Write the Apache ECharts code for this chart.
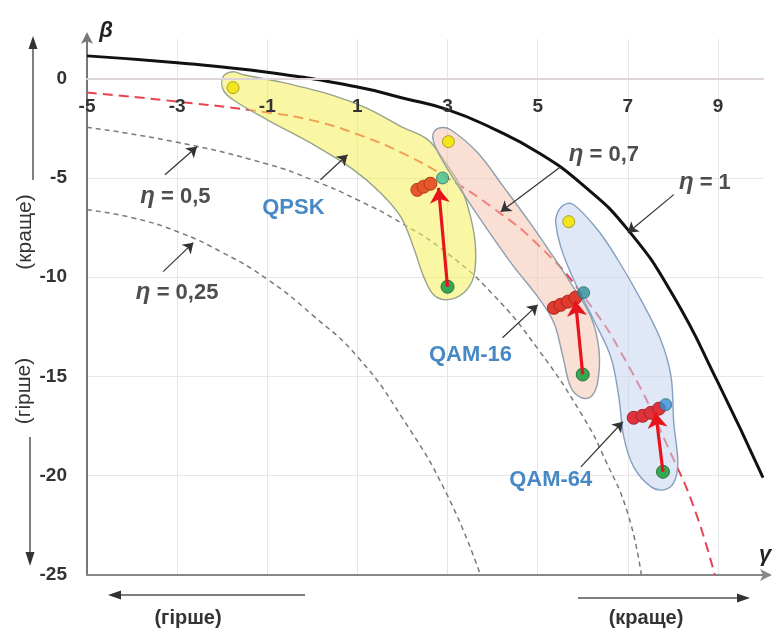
<!DOCTYPE html>
<html>
<head>
<meta charset="utf-8">
<script src="https://cdn.jsdelivr.net/npm/echarts@6/dist/echarts.min.js"></script>
<style>
html,body{margin:0;padding:0;background:#ffffff;}
#chart{width:774px;height:630px;}
</style>
</head>
<body>
<div id="chart"></div>
<script>
// ---------- data (gamma = x, beta = y) ----------
const xTickValues = [-5, -3, -1, 1, 3, 5, 7, 9];
const yTickValues = [0, -5, -10, -15, -20, -25];

const eta1Gamma = [-5, -3, -1, 1, 2, 3, 4, 5, 6, 7, 8, 9, 10];
const eta1Beta  = [1.15, 0.8, 0.32, -0.42, -0.97, -1.56, -2.5, -3.7, -5.35, -7.6, -10.9, -15.3, -20.1];

const eta07Gamma = [-5, -3, -1, 0, 1, 2, 3, 4, 5, 6, 7, 8, 8.5, 8.93];
const eta07Beta  = [-0.7, -1.15, -1.7, -2.1, -2.8, -3.75, -5.0, -6.5, -8.35, -10.9, -14.4, -19.1, -21.8, -25];

const eta05Gamma = [-5, -3, -1, 0, 1, 2, 3, 4, 5, 6, 6.5, 7, 7.3];
const eta05Beta  = [-2.45, -3.2, -4.3, -5.1, -6.1, -7.3, -8.8, -10.85, -13.6, -17.0, -19.2, -21.9, -25];

const eta025Gamma = [-5, -4, -3, -2, -1, 0, 1, 2, 3, 3.73];
const eta025Beta  = [-6.6, -7.0, -7.7, -8.75, -10.1, -11.9, -14.0, -17.1, -21.0, -25];

// outlines of the three modulation regions
const qpskRegion = [[-1.98,0.10],[-1.76,0.35],[-1.53,0.20],[-0.64,-0.20],[0.47,-0.85],[1.22,-1.5],[1.96,-2.4],[2.56,-3.07],[2.91,-4.08],[3.29,-5.44],[3.51,-6.95],[3.62,-8.46],[3.58,-9.97],[3.36,-10.78],[3.0,-11.13],[2.69,-10.88],[2.47,-9.97],[2.24,-8.46],[1.96,-6.95],[1.51,-5.74],[0.91,-4.58],[0.11,-3.43],[-1.0,-2.07],[-1.76,-1.06],[-1.98,-0.55]];
const qam16Region = [[2.69,-2.72],[2.84,-2.47],[3.07,-2.57],[3.67,-3.73],[4.24,-5.44],[4.78,-7.1],[5.29,-8.77],[5.73,-10.28],[6.18,-11.99],[6.36,-13.65],[6.33,-15.31],[6.18,-16.02],[5.96,-16.07],[5.73,-15.52],[5.56,-14.0],[5.36,-12.29],[5.0,-10.98],[4.47,-9.47],[3.89,-7.61],[3.29,-5.59],[2.84,-3.93],[2.69,-3.17]];
const qam64Region = [[5.44,-6.75],[5.58,-6.35],[5.8,-6.35],[6.33,-7.61],[6.78,-9.12],[7.29,-11.13],[7.73,-13.15],[7.96,-15.01],[8.02,-17.33],[8.11,-19.35],[8.02,-20.35],[7.8,-20.71],[7.51,-20.55],[7.13,-19.55],[6.91,-18.04],[6.8,-16.02],[6.62,-14.0],[6.24,-12.14],[5.8,-10.13],[5.51,-8.46],[5.4,-7.25]];

// operating points
const startPoints = [[-1.76,-0.45],[3.02,-3.17],[5.69,-7.2]];       // yellow
const basePoints  = [[3.0,-10.48],[6.0,-14.9],[7.78,-19.8]];         // green
const endPoints   = [[2.89,-5.0],[6.02,-10.78],[7.84,-16.42]];       // teal / blue
const qpskCluster  = [[2.33,-5.6],[2.47,-5.44],[2.62,-5.29]];
const qam16Cluster = [[5.36,-11.54],[5.51,-11.39],[5.67,-11.23],[5.84,-11.03]];
const qam64Cluster = [[7.13,-17.08],[7.33,-16.98],[7.51,-16.83],[7.69,-16.62]];
const gainArrowTo  = [[2.8,-5.5],[5.84,-11.2],[7.62,-16.83]];

// annotations
const etaLabels    = ['0,5', '0,25', '0,7', '1'];
const etaLabelAt   = [[-3.04,-5.94],[-3.0,-10.78],[6.47,-3.83],[8.71,-5.24]];
const etaArrowFrom = [[-3.27,-4.84],[-3.31,-9.72],[5.51,-4.43],[8.02,-5.84]];
const etaArrowTo   = [[-2.56,-3.43],[-2.64,-8.26],[4.18,-6.7],[7.0,-7.76]];
const modLabels    = ['QPSK', 'QAM-16', 'QAM-64'];
const modLabelAt   = [[-0.42,-6.5],[3.51,-13.9],[5.29,-20.2]];
const modArrowFrom = [[0.18,-5.09],[4.22,-13.05],[5.96,-19.55]];
const modArrowTo   = [[0.78,-3.83],[5.0,-11.39],[6.89,-17.28]];

// ---------- chart ----------
const FONT = '"Liberation Sans", Arial, sans-serif';
const pairs = (xs, ys) => xs.map((x, i) => [x, ys[i]]);
const chart = echarts.init(document.getElementById('chart'));

function curve(name, xs, ys, style) {
  return { type: 'line', name, data: pairs(xs, ys), smooth: 0.5, showSymbol: false,
           xAxisIndex: 0, yAxisIndex: 0, z: 2, silent: true, lineStyle: style };
}
function region(pts, fill, stroke) {
  return { type: 'custom', xAxisIndex: 0, yAxisIndex: 0, z: 3, silent: true, data: [pts[0]],
    renderItem: (params, api) => ({
      type: 'polygon',
      shape: { points: pts.map(p => api.coord(p)), smooth: 0.35 },
      style: { fill, stroke, lineWidth: 1.4 }
    }) };
}
function dots(pts, color, border, size, z) {
  return { type: 'scatter', data: pts, xAxisIndex: 0, yAxisIndex: 0, symbolSize: size, z, silent: true,
           itemStyle: { color, borderColor: border, borderWidth: 1, opacity: 1 } };
}
function arrows(from, to, color, width, size, z) {
  return { type: 'lines', coordinateSystem: 'cartesian2d', xAxisIndex: 0, yAxisIndex: 0, z, silent: true,
    symbol: ['none', 'arrow'], symbolSize: size,
    lineStyle: { color, width, opacity: 1, curveness: 0 },
    data: from.map((f, i) => ({ coords: [f, to[i]] })) };
}

const endColors = ['#3fbf96', '#2f8f9c', '#3a8fd4'];

const option = {
  animation: false,
  backgroundColor: '#ffffff',
  grid: [
    { left: 87, right: 11, top: 39, bottom: 55 },
    // strip from beta = 2 down to beta = 0, whose bottom edge carries the gamma tick labels
    { left: 87, right: 11, top: 39, height: 40 }
  ],
  xAxis: [
    { type: 'value', gridIndex: 0, min: -5, max: 10, interval: 2, position: 'bottom',
      axisLine: { onZero: false, lineStyle: { color: '#888', width: 2 },
                  symbol: ['none', 'arrow'], symbolSize: [9, 12], symbolOffset: [0, 9] },
      axisTick: { show: false }, axisLabel: { show: false },
      splitLine: { show: true, showMinLine: false, showMaxLine: false, lineStyle: { color: '#e6e6e6', width: 1 } } },
    { type: 'value', gridIndex: 1, min: -5, max: 10, interval: 2, position: 'bottom', z: 10,
      axisLine: { onZero: false, lineStyle: { color: '#ddd5d5', width: 2 } },
      axisTick: { show: false },
      axisLabel: { margin: 18, showMaxLabel: false, color: '#333', fontWeight: 'bold',
                   fontSize: 19, fontFamily: FONT,
                   formatter: v => xTickValues.includes(v) ? String(v) : '' },
      splitLine: { show: false } }
  ],
  yAxis: [
    { type: 'value', gridIndex: 0, min: -25, max: 2, interval: 5,
      axisLine: { onZero: false, show: true, lineStyle: { color: '#777', width: 2 },
                  symbol: ['none', 'arrow'], symbolSize: [9, 12], symbolOffset: [0, 7] },
      axisTick: { show: false },
      axisLabel: { margin: 20, showMaxLabel: false, color: '#333', fontWeight: 'bold', fontSize: 19, fontFamily: FONT,
                   formatter: v => yTickValues.includes(v) ? String(v) : '' },
      splitLine: { show: true, showMinLine: false, showMaxLine: false, lineStyle: { color: '#e6e6e6', width: 1 } } },
    { type: 'value', gridIndex: 1, min: 0, max: 2, show: false }
  ],
  series: [
    curve('η = 0,25', eta025Gamma, eta025Beta, { color: '#7a7a7a', width: 1.5, type: [5, 4] }),
    curve('η = 0,5', eta05Gamma, eta05Beta, { color: '#7a7a7a', width: 1.5, type: [5, 4] }),
    curve('η = 0,7', eta07Gamma, eta07Beta, { color: '#e8434f', width: 2, type: [10, 6] }),
    curve('η = 1', eta1Gamma, eta1Beta, { color: '#111', width: 3, type: 'solid' }),
    region(qpskRegion, 'rgba(246,240,90,0.55)', '#98a38c'),
    region(qam16Region, 'rgba(246,192,170,0.5)', '#8e9fae'),
    region(qam64Region, 'rgba(198,214,240,0.55)', '#84a0c0'),
    dots(startPoints, '#f2e51c', '#a9a023', 12, 5),
    dots(basePoints, '#34a853', '#27713a', 13, 5),
    dots(qpskCluster, '#e6572b', '#b23a1c', 13, 5),
    dots(qam16Cluster, '#e03a2c', '#a8261c', 13, 5),
    dots(qam64Cluster, '#e0323a', '#a8242a', 13, 5),
    { type: 'scatter', data: endPoints, xAxisIndex: 0, yAxisIndex: 0, symbolSize: 12, z: 5, silent: true,
      itemStyle: { color: p => endColors[p.dataIndex], borderColor: '#2a6a6a', borderWidth: 1 } },
    arrows(basePoints, gainArrowTo, '#e8141c', 3.2, [12, 15], 6),
    arrows(etaArrowFrom, etaArrowTo, '#333', 1.2, [7, 10], 6),
    arrows(modArrowFrom, modArrowTo, '#333', 1.2, [7, 10], 6),
    { type: 'scatter', xAxisIndex: 0, yAxisIndex: 0, symbolSize: 0, z: 7, silent: true,
      data: etaLabelAt.map((p, i) => ({ value: p, name: etaLabels[i] })),
      label: { show: true, position: 'inside', formatter: p => '{e|η} = ' + p.name,
               color: '#222', fontWeight: 'bold', fontSize: 22, fontFamily: FONT,
               rich: { e: { fontStyle: 'italic', fontWeight: 'bold', fontSize: 24, fontFamily: FONT, color: '#222' } } } },
    { type: 'scatter', xAxisIndex: 0, yAxisIndex: 0, symbolSize: 0, z: 7, silent: true,
      data: modLabelAt.map((p, i) => ({ value: p, name: modLabels[i] })),
      label: { show: true, position: 'inside', formatter: p => p.name,
               color: '#1a6cb6', fontWeight: 'bold', fontSize: 22, fontFamily: FONT } }
  ],
  graphic: [
    // axis names
    { type: 'text', x: 106, y: 31, style: { text: 'β', font: 'italic bold 22px ' + FONT, fill: '#222', align: 'center', verticalAlign: 'middle' } },
    { type: 'text', x: 765, y: 555, style: { text: 'γ', font: 'italic bold 22px ' + FONT, fill: '#222', align: 'center', verticalAlign: 'middle' } },
    // left direction hints
    { type: 'line', shape: { x1: 33, y1: 180, x2: 33, y2: 46 }, style: { stroke: '#555', lineWidth: 1.5 } },
    { type: 'polygon', shape: { points: [[33, 36], [28.5, 49], [37.5, 49]] }, style: { fill: '#333' } },
    { type: 'text', x: 25, y: 232, rotation: Math.PI / 2, style: { text: '(краще)', font: '21px ' + FONT, fill: '#333', align: 'center', verticalAlign: 'middle' } },
    { type: 'text', x: 24, y: 391, rotation: Math.PI / 2, style: { text: '(гірше)', font: '21px ' + FONT, fill: '#333', align: 'center', verticalAlign: 'middle' } },
    { type: 'line', shape: { x1: 30, y1: 437, x2: 30, y2: 554 }, style: { stroke: '#555', lineWidth: 1.5 } },
    { type: 'polygon', shape: { points: [[30, 566], [25.5, 552], [34.5, 552]] }, style: { fill: '#333' } },
    // bottom direction hints
    { type: 'line', shape: { x1: 305, y1: 595, x2: 118, y2: 595 }, style: { stroke: '#555', lineWidth: 1.5 } },
    { type: 'polygon', shape: { points: [[108, 595], [121, 590.5], [121, 599.5]] }, style: { fill: '#333' } },
    { type: 'text', x: 188, y: 618, style: { text: '(гірше)', font: 'bold 20px ' + FONT, fill: '#333', align: 'center', verticalAlign: 'middle' } },
    { type: 'line', shape: { x1: 578, y1: 598, x2: 740, y2: 598 }, style: { stroke: '#555', lineWidth: 1.5 } },
    { type: 'polygon', shape: { points: [[750, 598], [737, 593.5], [737, 602.5]] }, style: { fill: '#333' } },
    { type: 'text', x: 646, y: 618, style: { text: '(краще)', font: 'bold 20px ' + FONT, fill: '#333', align: 'center', verticalAlign: 'middle' } }
  ]
};
chart.setOption(option);
</script>
</body>
</html>
